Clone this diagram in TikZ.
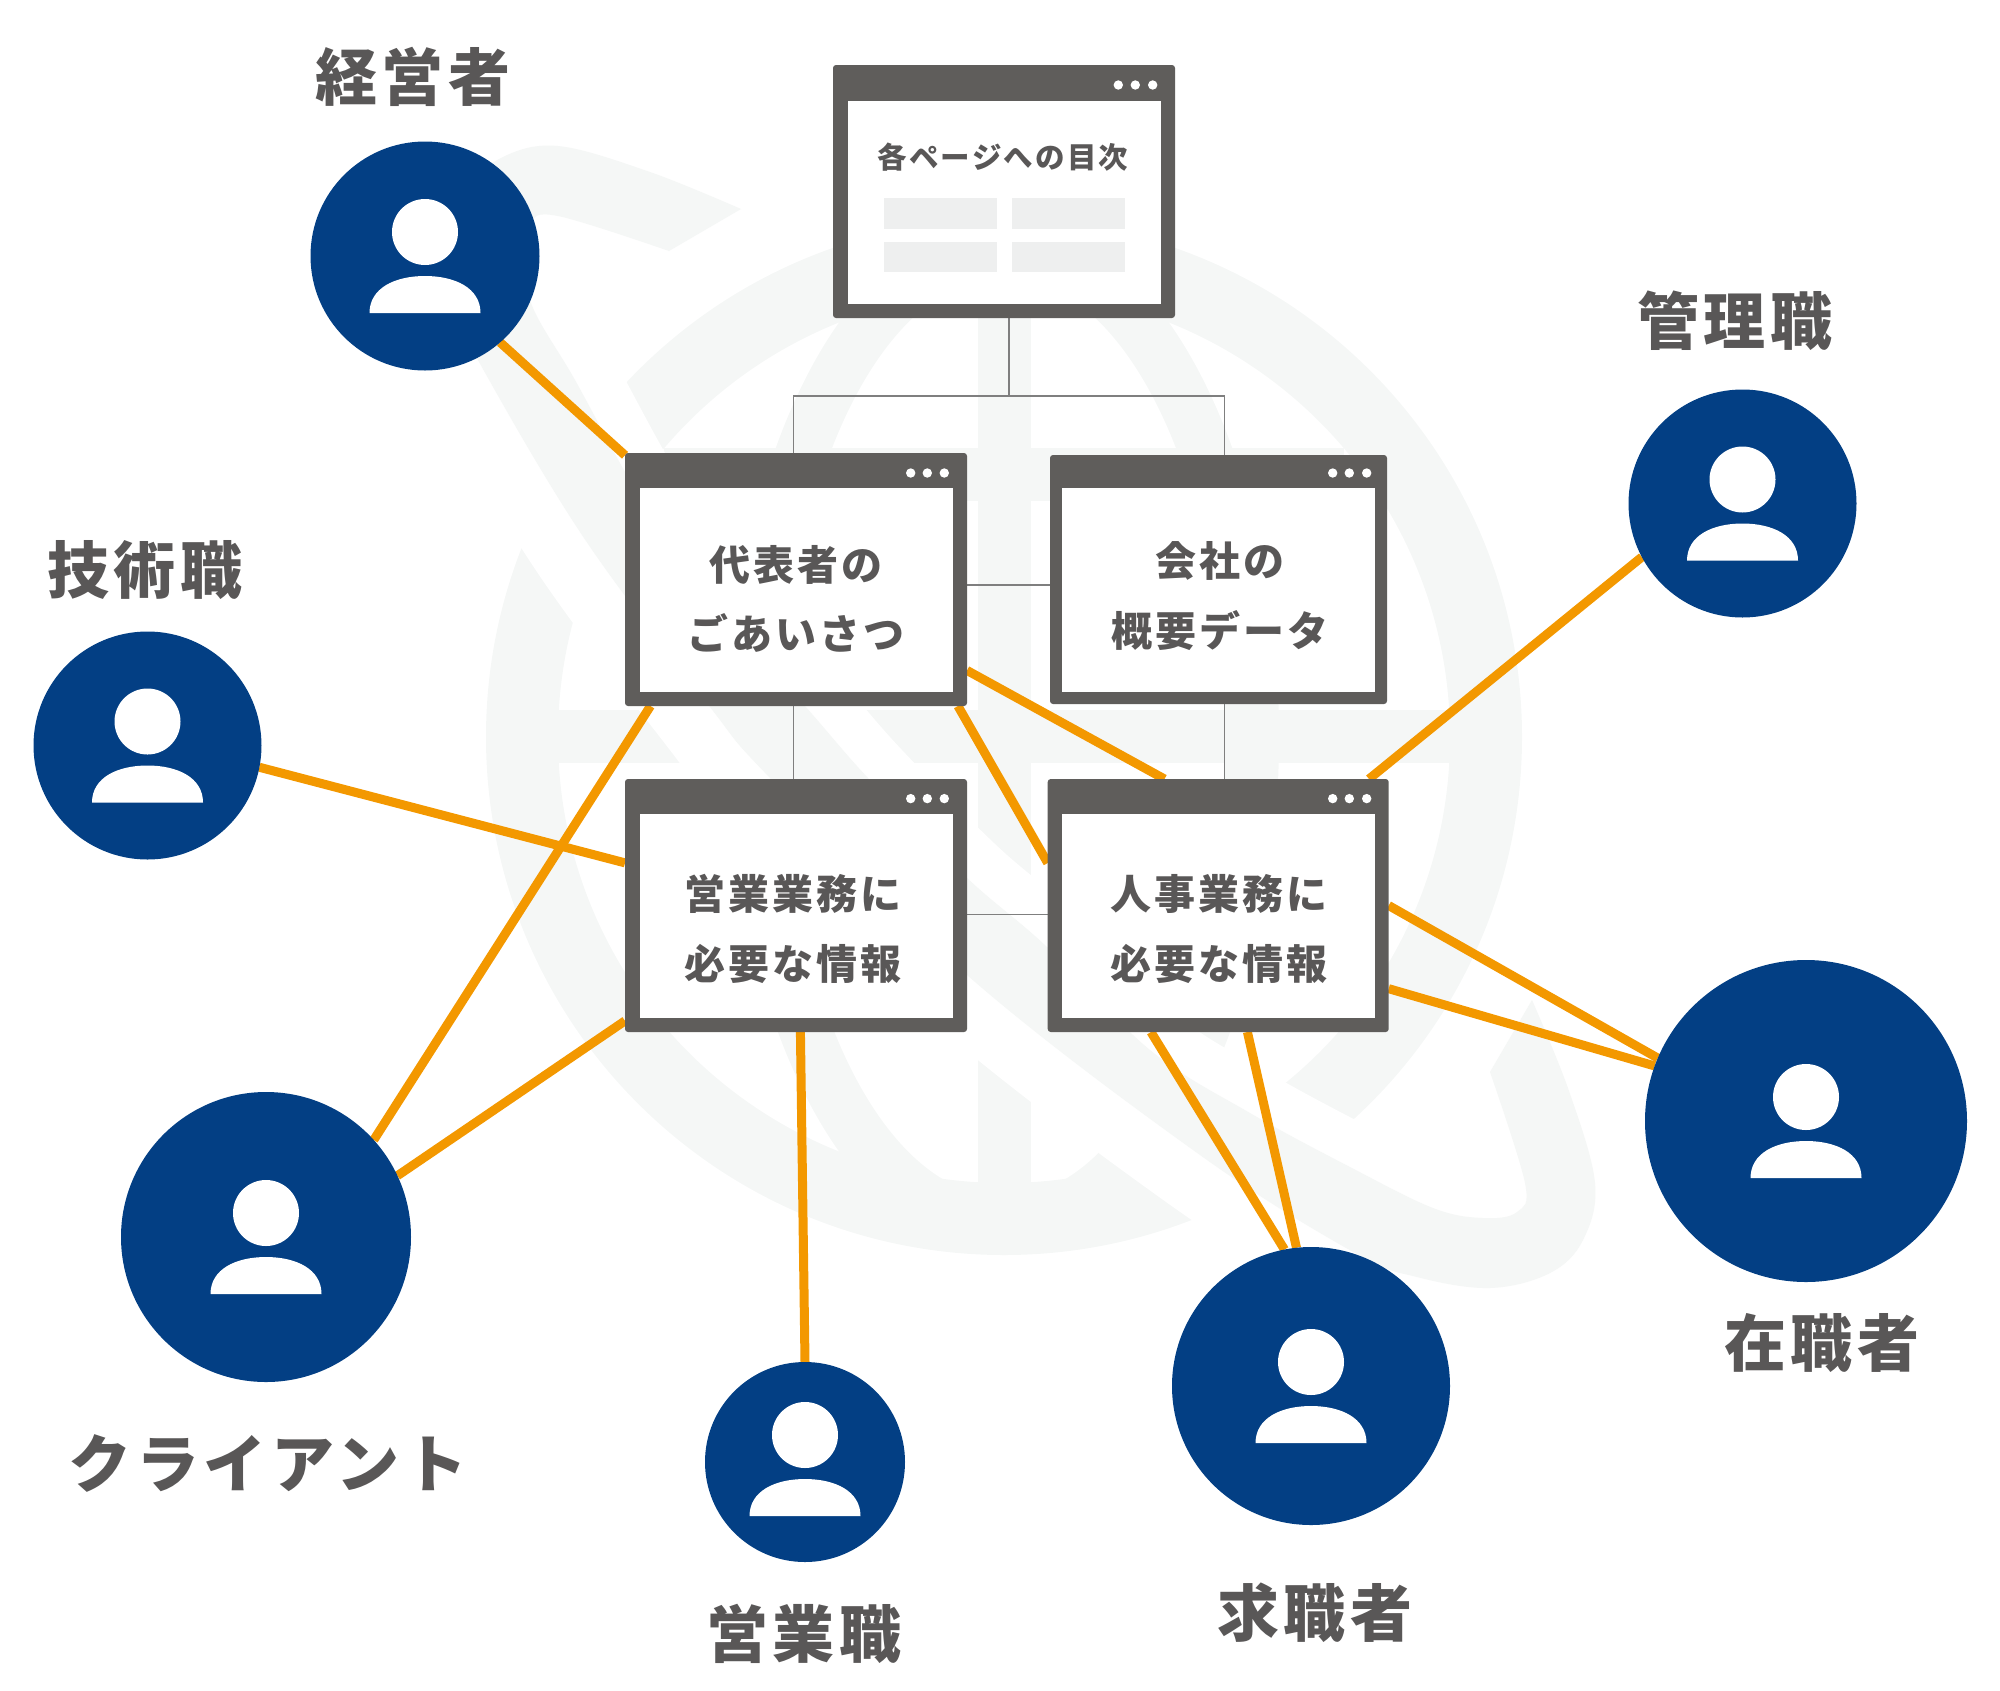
\documentclass[tikz,border=0pt]{standalone}
\usepackage{fontspec}
\setmainfont{Noto Sans CJK JP}[LetterSpace=7.5]
\usetikzlibrary{backgrounds}
\definecolor{frameGrey}{HTML}{5F5D5B}
\definecolor{textGrey}{HTML}{595757}
\definecolor{treeGrey}{HTML}{7F7F7F}
\definecolor{rowGrey}{HTML}{EEEFEF}
\definecolor{markGrey}{HTML}{F5F7F6}
\definecolor{personBlue}{HTML}{033F84}
\definecolor{linkOrange}{HTML}{F39800}
\newcommand{\swooshpath}{
    plot[smooth, tension=0.6] coordinates {(741,209) (650,172) (558,146) (501,158) (468,191) (453,251) (464,324) (488,378) (586,541) (710,707) (770,778) (967,975) (1200,1155) (1355,1253) (1417,1277) (1490,1288) (1550,1273) (1583,1240) (1595,1183) (1569,1091) (1532,1000)}
    -- plot[smooth, tension=0.6] coordinates {(1490,1072) (1525,1183) (1517,1212) (1483,1218) (1433,1208) (1350,1167) (1250,1113) (1150,1050) (1047,947) (966,877) (868,778) (794,694) (694,591) (625,472) (575,380) (533,308) (523,258) (529,224) (558,216) (669,251)}
    -- cycle
}
\tikzset{
    usericon/.pic={
        \fill[white] (0,-24) circle (33pt);
        \fill[white] (-55.5,57) .. controls (-55.5,32) and (-30,20) .. (0,20)
            .. controls (30,20) and (55.5,32) .. (55.5,57) -- cycle;
    },
    frame/.style={rectangle, rounded corners=3pt, fill=frameGrey, minimum width=342pt, minimum height=253pt},
    pane/.style={rectangle, fill=white, minimum width=313pt, minimum height=204pt},
    winbtn/.style={circle, fill=white, minimum size=9.4pt},
    tocrow/.style={rectangle, fill=rowGrey, minimum width=113pt, minimum height=30.5pt},
    person/.style={circle, fill=personBlue},
    pagetext/.style={text=textGrey, align=center, font=\fontsize{41}{69.5}\selectfont\bfseries},
    toctext/.style={text=textGrey, font=\fontsize{29.5}{34}\selectfont\bfseries},
    role/.style={text=textGrey, font=\fontsize{62}{70}\selectfont\bfseries},
    tree/.style={draw=treeGrey, line width=1.5pt},
    link/.style={draw=linkOrange, line width=9pt}
}
\begin{document}
\begin{tikzpicture}[x=1pt, y=-1pt, every node/.style={inner sep=0pt, outer sep=0pt}]
    \useasboundingbox (0,0) rectangle (2000,1690);

    \begin{scope}[on background layer]
        \fill[markGrey, even odd rule] (1004,737) circle [radius=518pt] (1004,737) circle [radius=446pt];
        \fill[markGrey, even odd rule] (1004,737) circle [x radius=275pt, y radius=518pt]
            (1004,737) circle [x radius=221pt, y radius=460pt];
        \fill[markGrey] (978,240) rectangle (1031,1225);
        \fill[markGrey] (557,710) rectangle (1451,763);
        \fill[markGrey] (664,448) rectangle (1344,501);
        \draw[white, fill=white, line width=102pt, line join=round, shift={(-5,5)}] \swooshpath;
        \fill[markGrey] \swooshpath;
    \end{scope}

    \node[frame] (toc) at (1004,191.5) {};
    \node[pane, minimum height=203.5pt] (tocpane) at (1004.5,202.25) {};
    \node[winbtn] (tocdotA) at (1118.3,85) {};
    \node[winbtn] (tocdotB) at (1135.3,85) {};
    \node[winbtn] (tocdotC) at (1152.7,85) {};
    \node[toctext] (toclabel) at (1003,157) {各ページへの目次};
    \node[tocrow] (rowA) at (940.5,213.5) {};
    \node[tocrow] (rowB) at (1068.5,213.5) {};
    \node[tocrow] (rowC) at (940.5,257) {};
    \node[tocrow] (rowD) at (1068.5,257) {};

    \node[frame] (greet) at (796,579.5) {};
    \node[pane] (greetpane) at (796,590) {};
    \node[winbtn] (greetdotA) at (910.7,473) {};
    \node[winbtn] (greetdotB) at (927.3,473) {};
    \node[winbtn] (greetdotC) at (944.3,473) {};
    \node[pagetext] (greetlabel) at (796,599) {代表者の\\ごあいさつ};

    \node[frame, minimum width=337pt, minimum height=249pt] (company) at (1218.5,579.5) {};
    \node[pane] (companypane) at (1218.5,590) {};
    \node[winbtn] (companydotA) at (1332.7,473) {};
    \node[winbtn] (companydotB) at (1349.3,473) {};
    \node[winbtn] (companydotC) at (1366.7,473) {};
    \node[pagetext] (companylabel) at (1220,596) {会社の\\概要データ};

    \node[frame] (salesinfo) at (796,905.5) {};
    \node[pane] (salespane) at (796,916) {};
    \node[winbtn] (salesdotA) at (910.7,798.6) {};
    \node[winbtn] (salesdotB) at (927.3,798.6) {};
    \node[winbtn] (salesdotC) at (944.3,798.6) {};
    \node[pagetext] (saleslabel) at (793,929) {営業業務に\\必要な情報};

    \node[frame, minimum width=341pt] (hrinfo) at (1218.2,905.5) {};
    \node[pane] (hrpane) at (1218.5,916) {};
    \node[winbtn] (hrdotA) at (1332.7,798.6) {};
    \node[winbtn] (hrdotB) at (1349.3,798.6) {};
    \node[winbtn] (hrdotC) at (1366.7,798.6) {};
    \node[pagetext] (hrlabel) at (1219,929) {人事業務に\\必要な情報};

    \node[person, minimum size=229pt] (exec) at (425,256) {};
    \node[person, minimum size=228pt] (manager) at (1742.5,503.5) {};
    \node[person, minimum size=228pt] (tech) at (147.5,745.5) {};
    \node[person, minimum size=290pt] (client) at (266,1237) {};
    \node[person, minimum size=200pt] (sales) at (805,1462) {};
    \node[person, minimum size=278pt] (seeker) at (1311,1386) {};
    \node[person, minimum size=322pt] (staff) at (1806,1121) {};

    \pic at (exec) {usericon};
    \pic at (manager) {usericon};
    \pic at (tech) {usericon};
    \pic at (client) {usericon};
    \pic[yshift=3pt] at (sales) {usericon};
    \pic at (seeker) {usericon};
    \pic at (staff) {usericon};

    \node[role] (execlabel) at (413,77) {経営者};
    \node[role] (managerlabel) at (1735,321) {管理職};
    \node[role] (techlabel) at (145,570) {技術職};
    \node[role, font=\fontsize{63}{70}\selectfont\bfseries] (clientlabel) at (268,1463) {クライアント};
    \node[role] (saleslabelb) at (804,1634) {営業職};
    \node[role] (seekerlabel) at (1315,1613) {求職者};
    \node[role] (stafflabel) at (1822,1343) {在職者};

    \coordinate (tocjoin) at (1009,396);
    \coordinate (treeL) at (793.5,396);
    \coordinate (treeR) at (1224.7,396);
    \coordinate (rowtop) at (1010,585);
    \coordinate (rowbot) at (1010,914.5);

    \begin{scope}[on background layer]
        \draw[tree] (tocjoin |- toc.south) -- (tocjoin);
        \draw[tree] (treeL |- greet.north) -- (treeL) -- (treeR) -- (treeR |- company.north);
        \draw[tree] (treeL |- greet.south) -- (treeL |- salesinfo.north);
        \draw[tree] (treeR |- company.south) -- (treeR |- hrinfo.north);
        \draw[tree] (rowtop -| greet.east) -- (rowtop -| company.west);
        \draw[tree] (rowbot -| salesinfo.east) -- (rowbot -| hrinfo.west);

        \draw[link] (exec.-49.4) -- (greet.144.75);
        \draw[link] (tech.-11.6) -- (salesinfo.166);
        \draw[link] (client.42.8) -- (greet.-139);
        \draw[link] (client.25.2) -- (salesinfo.-146.2);
        \draw[link] (sales.90) -- (salesinfo.-88.6);
        \draw[link] (manager.-152.3) -- (hrinfo.40.4);
        \draw[link] (greet.-28.2) -- (hrinfo.113);
        \draw[link] (greet.-38.9) -- (hrinfo.166.8);
        \draw[link] (hrinfo.-0.5) -- (staff.157.3);
        \draw[link] (hrinfo.-26) -- (staff.160.9);
        \draw[link] (hrinfo.-118.3) -- (seeker.101.8);
        \draw[link] (hrinfo.-77.5) -- (seeker.96.4);
    \end{scope}
\end{tikzpicture}
\end{document}
